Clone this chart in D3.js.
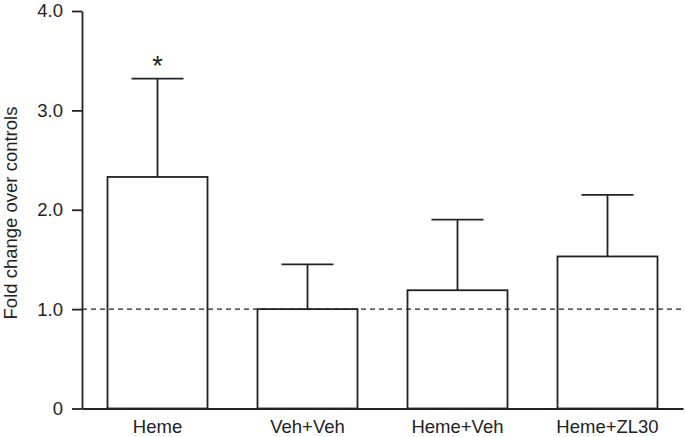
<!DOCTYPE html>
<html>
<head>
<meta charset="utf-8">
<script src="https://cdn.jsdelivr.net/npm/d3@7"></script>
<style>
  body { margin: 0; background: #fff; }
  svg { display: block; font-family: "Liberation Sans", Arial, Helvetica, sans-serif; }
</style>
</head>
<body>
<div id="chart"></div>
<script>
// Data
const groups = ['Heme', 'Veh+Veh', 'Heme+Veh', 'Heme+ZL30'];
const means = [2.33, 1.0, 1.19, 1.53];
const upperErrors = [3.32, 1.45, 1.90, 2.15];
const significant = [true, false, false, false];
const yTicks = [0, 1, 2, 3, 4];
const referenceLevel = 1.0;

document.addEventListener('DOMContentLoaded', () => {
  const width = 685;
  const height = 437;
  const ink = '#222';
  const lineW = 1.8;

  const svg = d3.select('#chart')
    .append('svg')
    .attr('width', width)
    .attr('height', height);

  // Scales
  const yScale = d3.scaleLinear()
    .domain([0, 4])
    .range([408.5, 11]);

  const xScale = d3.scaleBand()
    .domain(groups)
    .range([82, 683])
    .paddingInner(1 / 3)
    .paddingOuter(0.17);

  // Y axis
  const yAxis = d3.axisLeft(yScale)
    .tickValues(yTicks)
    .tickFormat(d => d === 0 ? '0' : d3.format('.1f')(d))
    .tickSize(10)
    .tickSizeOuter(0)
    .tickPadding(9);

  const gy = svg.append('g')
    .attr('transform', 'translate(82, 0)')
    .call(yAxis);
  gy.selectAll('path, line').attr('stroke', ink).attr('stroke-width', lineW);
  gy.selectAll('text').attr('font-size', 18.5).attr('fill', ink).attr('font-family', null);

  // Y label
  svg.append('text')
    .attr('transform', 'translate(17, 213) rotate(-90)')
    .attr('text-anchor', 'middle')
    .attr('font-size', 18.5)
    .attr('fill', ink)
    .text('Fold change over controls');

  // Bars
  svg.selectAll('.bar')
    .data(groups)
    .enter()
    .append('rect')
    .attr('class', 'bar')
    .attr('x', d => xScale(d))
    .attr('y', (d, i) => yScale(means[i]))
    .attr('width', xScale.bandwidth())
    .attr('height', (d, i) => yScale(0) - yScale(means[i]))
    .attr('fill', '#fff')
    .attr('stroke', ink)
    .attr('stroke-width', lineW);

  // Reference line at 1.0
  svg.append('line')
    .attr('x1', 82)
    .attr('x2', 683)
    .attr('y1', yScale(referenceLevel))
    .attr('y2', yScale(referenceLevel))
    .attr('stroke', ink)
    .attr('stroke-width', 1.4)
    .attr('stroke-dasharray', '5,4');

  // Error bars (upper only)
  const capHalf = 26;
  const err = svg.selectAll('.err')
    .data(groups)
    .enter()
    .append('g')
    .attr('class', 'err')
    .attr('transform', d => `translate(${xScale(d) + xScale.bandwidth() / 2}, 0)`);

  err.append('line')
    .attr('x1', 0).attr('x2', 0)
    .attr('y1', (d, i) => yScale(means[i]))
    .attr('y2', (d, i) => yScale(upperErrors[i]))
    .attr('stroke', ink)
    .attr('stroke-width', lineW);

  err.append('line')
    .attr('x1', -capHalf).attr('x2', capHalf)
    .attr('y1', (d, i) => yScale(upperErrors[i]))
    .attr('y2', (d, i) => yScale(upperErrors[i]))
    .attr('stroke', ink)
    .attr('stroke-width', lineW);

  err.filter((d, i) => significant[i])
    .append('text')
    .attr('y', d => yScale(upperErrors[groups.indexOf(d)]) - 4)
    .attr('text-anchor', 'middle')
    .attr('font-size', 27)
    .attr('fill', ink)
    .text('*');

  // X axis (baseline, no ticks)
  const xAxis = d3.axisBottom(xScale)
    .tickSize(0)
    .tickSizeOuter(0)
    .tickPadding(11);

  const gx = svg.append('g')
    .attr('transform', `translate(0, ${yScale(0)})`)
    .call(xAxis);
  gx.select('.domain').attr('stroke', ink).attr('stroke-width', lineW);
  gx.selectAll('text').attr('font-size', 18.5).attr('fill', ink).attr('font-family', null);
});
</script>
</body>
</html>
